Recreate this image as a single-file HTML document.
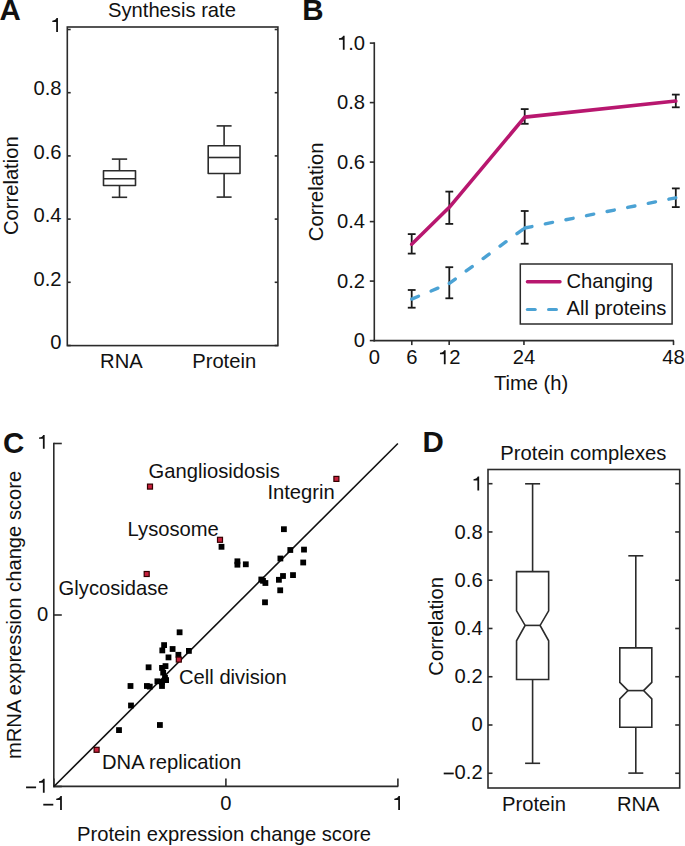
<!DOCTYPE html>
<html><head><meta charset="utf-8"><title>Figure</title>
<style>
html,body{margin:0;padding:0;background:#fff;}
body{width:685px;height:846px;overflow:hidden;}
svg{display:block;}
text{font-family:"Liberation Sans",sans-serif;fill:#111;}
</style></head>
<body>
<svg width="685" height="846" viewBox="0 0 685 846">
<rect width="685" height="846" fill="#fff"/>
<text x="-0.50" y="20.40" text-anchor="start" font-size="29.5" font-weight="bold" >A</text>
<text x="302.20" y="20.40" text-anchor="start" font-size="29.5" font-weight="bold" >B</text>
<text x="2.90" y="453.20" text-anchor="start" font-size="29.5" font-weight="bold" >C</text>
<text x="422.40" y="452.40" text-anchor="start" font-size="29.5" font-weight="bold" >D</text>
<rect x="67.3" y="27.0" width="210.60" height="318.60" fill="none" stroke="#2b2b2b" stroke-width="1.6"/>
<line x1="67.30" y1="29.50" x2="70.70" y2="29.50" stroke="#2b2b2b" stroke-width="1.6" />
<line x1="277.90" y1="29.50" x2="274.70" y2="29.50" stroke="#2b2b2b" stroke-width="1.6" />
<path d="M600 0H780V1409H635C605 1290 465 1170 207 1150V1010H600Z" fill="#111" transform="translate(50.266,32.000) scale(0.009863,-0.009863)"/>
<line x1="67.30" y1="92.70" x2="70.70" y2="92.70" stroke="#2b2b2b" stroke-width="1.6" />
<line x1="277.90" y1="92.70" x2="274.70" y2="92.70" stroke="#2b2b2b" stroke-width="1.6" />
<text x="61.50" y="95.45" text-anchor="end" font-size="20.2" font-weight="normal" >0.8</text>
<line x1="67.30" y1="155.90" x2="70.70" y2="155.90" stroke="#2b2b2b" stroke-width="1.6" />
<line x1="277.90" y1="155.90" x2="274.70" y2="155.90" stroke="#2b2b2b" stroke-width="1.6" />
<text x="61.50" y="158.90" text-anchor="end" font-size="20.2" font-weight="normal" >0.6</text>
<line x1="67.30" y1="219.10" x2="70.70" y2="219.10" stroke="#2b2b2b" stroke-width="1.6" />
<line x1="277.90" y1="219.10" x2="274.70" y2="219.10" stroke="#2b2b2b" stroke-width="1.6" />
<text x="61.50" y="222.35" text-anchor="end" font-size="20.2" font-weight="normal" >0.4</text>
<line x1="67.30" y1="282.30" x2="70.70" y2="282.30" stroke="#2b2b2b" stroke-width="1.6" />
<line x1="277.90" y1="282.30" x2="274.70" y2="282.30" stroke="#2b2b2b" stroke-width="1.6" />
<text x="61.50" y="285.80" text-anchor="end" font-size="20.2" font-weight="normal" >0.2</text>
<line x1="67.30" y1="345.50" x2="70.70" y2="345.50" stroke="#2b2b2b" stroke-width="1.6" />
<line x1="277.90" y1="345.50" x2="274.70" y2="345.50" stroke="#2b2b2b" stroke-width="1.6" />
<text x="61.50" y="349.25" text-anchor="end" font-size="20.2" font-weight="normal" >0</text>
<text x="108.00" y="17.00" text-anchor="start" font-size="20.2" font-weight="normal" >Synthesis rate</text>
<text x="121.40" y="367.50" text-anchor="middle" font-size="20.2" font-weight="normal" >RNA</text>
<text x="224.20" y="367.50" text-anchor="middle" font-size="20.2" font-weight="normal" >Protein</text>
<text x="0.00" y="0.00" text-anchor="middle" font-size="20.2" font-weight="normal" transform="translate(18.3,185.7) rotate(-90)">Correlation</text>
<rect x="103.50" y="170.80" width="32.00" height="14.70" fill="none" stroke="#2b2b2b" stroke-width="1.6" stroke-linejoin="round"/>
<line x1="103.50" y1="178.70" x2="135.50" y2="178.70" stroke="#2b2b2b" stroke-width="1.6" />
<line x1="119.50" y1="159.10" x2="119.50" y2="170.80" stroke="#2b2b2b" stroke-width="1.6" />
<line x1="119.50" y1="185.50" x2="119.50" y2="197.30" stroke="#2b2b2b" stroke-width="1.6" />
<line x1="111.85" y1="159.10" x2="127.15" y2="159.10" stroke="#2b2b2b" stroke-width="1.6" />
<line x1="111.85" y1="197.30" x2="127.15" y2="197.30" stroke="#2b2b2b" stroke-width="1.6" />
<rect x="208.20" y="145.70" width="31.80" height="27.80" fill="none" stroke="#2b2b2b" stroke-width="1.6" stroke-linejoin="round"/>
<line x1="208.20" y1="157.50" x2="240.00" y2="157.50" stroke="#2b2b2b" stroke-width="1.6" />
<line x1="224.10" y1="125.90" x2="224.10" y2="145.70" stroke="#2b2b2b" stroke-width="1.6" />
<line x1="224.10" y1="173.50" x2="224.10" y2="197.10" stroke="#2b2b2b" stroke-width="1.6" />
<line x1="216.60" y1="125.90" x2="231.60" y2="125.90" stroke="#2b2b2b" stroke-width="1.6" />
<line x1="216.60" y1="197.10" x2="231.60" y2="197.10" stroke="#2b2b2b" stroke-width="1.6" />
<line x1="374.30" y1="42.20" x2="374.30" y2="341.40" stroke="#2b2b2b" stroke-width="1.6" />
<line x1="373.50" y1="340.60" x2="674.00" y2="340.60" stroke="#2b2b2b" stroke-width="1.6" />
<line x1="369.80" y1="43.10" x2="374.30" y2="43.10" stroke="#2b2b2b" stroke-width="1.6" />
<path d="M600 0H780V1409H635C605 1290 465 1170 207 1150V1010H600Z" fill="#111" transform="translate(336.919,49.700) scale(0.009863,-0.009863)"/>
<text x="348.15" y="49.70" font-size="20.2">.</text>
<text x="353.77" y="49.70" font-size="20.2">0</text>
<line x1="369.80" y1="102.60" x2="374.30" y2="102.60" stroke="#2b2b2b" stroke-width="1.6" />
<text x="365.00" y="109.20" text-anchor="end" font-size="20.2" font-weight="normal" >0.8</text>
<line x1="369.80" y1="162.10" x2="374.30" y2="162.10" stroke="#2b2b2b" stroke-width="1.6" />
<text x="365.00" y="168.70" text-anchor="end" font-size="20.2" font-weight="normal" >0.6</text>
<line x1="369.80" y1="221.60" x2="374.30" y2="221.60" stroke="#2b2b2b" stroke-width="1.6" />
<text x="365.00" y="228.20" text-anchor="end" font-size="20.2" font-weight="normal" >0.4</text>
<line x1="369.80" y1="281.10" x2="374.30" y2="281.10" stroke="#2b2b2b" stroke-width="1.6" />
<text x="365.00" y="287.70" text-anchor="end" font-size="20.2" font-weight="normal" >0.2</text>
<line x1="369.80" y1="340.60" x2="374.30" y2="340.60" stroke="#2b2b2b" stroke-width="1.6" />
<text x="365.00" y="347.20" text-anchor="end" font-size="20.2" font-weight="normal" >0</text>
<text x="374.40" y="364.20" text-anchor="middle" font-size="20.2" font-weight="normal" >0</text>
<line x1="411.79" y1="340.60" x2="411.79" y2="345.10" stroke="#2b2b2b" stroke-width="1.6" />
<text x="411.79" y="364.20" text-anchor="middle" font-size="20.2" font-weight="normal" >6</text>
<line x1="449.17" y1="340.60" x2="449.17" y2="345.10" stroke="#2b2b2b" stroke-width="1.6" />
<path d="M600 0H780V1409H635C605 1290 465 1170 207 1150V1010H600Z" fill="#111" transform="translate(437.941,364.200) scale(0.009863,-0.009863)"/>
<text x="449.17" y="364.20" font-size="20.2">2</text>
<line x1="523.95" y1="340.60" x2="523.95" y2="345.10" stroke="#2b2b2b" stroke-width="1.6" />
<text x="523.95" y="364.20" text-anchor="middle" font-size="20.2" font-weight="normal" >24</text>
<line x1="673.50" y1="340.60" x2="673.50" y2="345.10" stroke="#2b2b2b" stroke-width="1.6" />
<text x="673.50" y="364.20" text-anchor="middle" font-size="20.2" font-weight="normal" >48</text>
<text x="531.10" y="390.40" text-anchor="middle" font-size="20.2" font-weight="normal" >Time (h)</text>
<text x="0.00" y="0.00" text-anchor="middle" font-size="20.2" font-weight="normal" transform="translate(322.5,191.8) rotate(-90)">Correlation</text>
<line x1="411.70" y1="234.10" x2="411.70" y2="253.60" stroke="#1a1a1a" stroke-width="1.8" />
<line x1="407.80" y1="234.10" x2="415.60" y2="234.10" stroke="#1a1a1a" stroke-width="1.8" />
<line x1="407.80" y1="253.60" x2="415.60" y2="253.60" stroke="#1a1a1a" stroke-width="1.8" />
<line x1="449.30" y1="191.60" x2="449.30" y2="223.90" stroke="#1a1a1a" stroke-width="1.8" />
<line x1="445.40" y1="191.60" x2="453.20" y2="191.60" stroke="#1a1a1a" stroke-width="1.8" />
<line x1="445.40" y1="223.90" x2="453.20" y2="223.90" stroke="#1a1a1a" stroke-width="1.8" />
<line x1="524.70" y1="109.10" x2="524.70" y2="123.80" stroke="#1a1a1a" stroke-width="1.8" />
<line x1="520.80" y1="109.10" x2="528.60" y2="109.10" stroke="#1a1a1a" stroke-width="1.8" />
<line x1="520.80" y1="123.80" x2="528.60" y2="123.80" stroke="#1a1a1a" stroke-width="1.8" />
<line x1="675.80" y1="94.60" x2="675.80" y2="107.30" stroke="#1a1a1a" stroke-width="1.8" />
<line x1="671.90" y1="94.60" x2="679.70" y2="94.60" stroke="#1a1a1a" stroke-width="1.8" />
<line x1="671.90" y1="107.30" x2="679.70" y2="107.30" stroke="#1a1a1a" stroke-width="1.8" />
<line x1="411.70" y1="290.00" x2="411.70" y2="307.70" stroke="#1a1a1a" stroke-width="1.8" />
<line x1="407.80" y1="290.00" x2="415.60" y2="290.00" stroke="#1a1a1a" stroke-width="1.8" />
<line x1="407.80" y1="307.70" x2="415.60" y2="307.70" stroke="#1a1a1a" stroke-width="1.8" />
<line x1="449.30" y1="267.20" x2="449.30" y2="298.30" stroke="#1a1a1a" stroke-width="1.8" />
<line x1="445.40" y1="267.20" x2="453.20" y2="267.20" stroke="#1a1a1a" stroke-width="1.8" />
<line x1="445.40" y1="298.30" x2="453.20" y2="298.30" stroke="#1a1a1a" stroke-width="1.8" />
<line x1="524.70" y1="211.00" x2="524.70" y2="243.70" stroke="#1a1a1a" stroke-width="1.8" />
<line x1="520.80" y1="211.00" x2="528.60" y2="211.00" stroke="#1a1a1a" stroke-width="1.8" />
<line x1="520.80" y1="243.70" x2="528.60" y2="243.70" stroke="#1a1a1a" stroke-width="1.8" />
<line x1="675.80" y1="188.40" x2="675.80" y2="207.10" stroke="#1a1a1a" stroke-width="1.8" />
<line x1="671.90" y1="188.40" x2="679.70" y2="188.40" stroke="#1a1a1a" stroke-width="1.8" />
<line x1="671.90" y1="207.10" x2="679.70" y2="207.10" stroke="#1a1a1a" stroke-width="1.8" />
<line x1="411.70" y1="299.10" x2="449.30" y2="283.40" stroke="#4ba2d4" stroke-width="3.4" stroke-dasharray="7.4 13.6" stroke-linecap="round"/>
<line x1="449.30" y1="283.40" x2="524.70" y2="228.00" stroke="#4ba2d4" stroke-width="3.4" stroke-dasharray="7.4 13.6" stroke-linecap="round"/>
<line x1="524.70" y1="228.00" x2="675.80" y2="197.80" stroke="#4ba2d4" stroke-width="3.4" stroke-dasharray="7.4 13.6" stroke-linecap="round"/>
<polyline points="411.70,244.20 449.30,207.30 524.70,117.10 675.80,101.00" fill="none" stroke="#b8176f" stroke-width="3.6" stroke-linejoin="round" stroke-linecap="round"/>
<rect x="520.3" y="264.0" width="151.8" height="60.0" fill="#fff" stroke="#2b2b2b" stroke-width="1.5"/>
<line x1="527.40" y1="281.70" x2="560.00" y2="281.70" stroke="#b8176f" stroke-width="3.4" stroke-linecap="round"/>
<line x1="527.40" y1="309.50" x2="535.20" y2="309.50" stroke="#4ba2d4" stroke-width="3.2" stroke-linecap="round"/>
<line x1="548.60" y1="309.50" x2="556.40" y2="309.50" stroke="#4ba2d4" stroke-width="3.2" stroke-linecap="round"/>
<text x="566.50" y="288.20" text-anchor="start" font-size="20.2" font-weight="normal" >Changing</text>
<text x="566.50" y="315.20" text-anchor="start" font-size="20.2" font-weight="normal" >All proteins</text>
<line x1="53.80" y1="442.80" x2="53.80" y2="787.20" stroke="#2b2b2b" stroke-width="1.6" />
<line x1="53.00" y1="786.40" x2="398.20" y2="786.40" stroke="#2b2b2b" stroke-width="1.6" />
<line x1="53.80" y1="786.50" x2="61.80" y2="786.50" stroke="#2b2b2b" stroke-width="1.6" />
<line x1="53.90" y1="786.40" x2="53.90" y2="778.40" stroke="#2b2b2b" stroke-width="1.6" />
<line x1="53.80" y1="615.00" x2="61.80" y2="615.00" stroke="#2b2b2b" stroke-width="1.6" />
<line x1="225.90" y1="786.40" x2="225.90" y2="778.40" stroke="#2b2b2b" stroke-width="1.6" />
<line x1="53.80" y1="443.50" x2="61.80" y2="443.50" stroke="#2b2b2b" stroke-width="1.6" />
<line x1="397.90" y1="786.40" x2="397.90" y2="778.40" stroke="#2b2b2b" stroke-width="1.6" />
<path d="M600 0H780V1409H635C605 1290 465 1170 207 1150V1010H600Z" fill="#111" transform="translate(36.966,448.800) scale(0.009863,-0.009863)"/>
<text x="48.20" y="621.00" text-anchor="end" font-size="20.2" font-weight="normal" >0</text>
<path d="M90 450V630H1106V450Z" fill="#111" transform="translate(25.169,792.700) scale(0.009863,-0.009863)"/>
<path d="M600 0H780V1409H635C605 1290 465 1170 207 1150V1010H600Z" fill="#111" transform="translate(36.966,792.700) scale(0.009863,-0.009863)"/>
<path d="M90 450V630H1106V450Z" fill="#111" transform="translate(42.385,810.000) scale(0.009863,-0.009863)"/>
<path d="M600 0H780V1409H635C605 1290 465 1170 207 1150V1010H600Z" fill="#111" transform="translate(54.181,810.000) scale(0.009863,-0.009863)"/>
<text x="225.90" y="810.00" text-anchor="middle" font-size="20.2" font-weight="normal" >0</text>
<path d="M600 0H780V1409H635C605 1290 465 1170 207 1150V1010H600Z" fill="#111" transform="translate(392.283,810.000) scale(0.009863,-0.009863)"/>
<text x="224.10" y="841.00" text-anchor="middle" font-size="20.2" font-weight="normal" >Protein expression change score</text>
<text x="0.00" y="0.00" text-anchor="middle" font-size="20.2" font-weight="normal" transform="translate(21.4,614.9) rotate(-90)">mRNA expression change score</text>
<line x1="53.90" y1="786.50" x2="397.90" y2="443.50" stroke="#111" stroke-width="1.6" />
<rect x="281.00" y="526.30" width="5.8" height="5.8" fill="#000"/>
<rect x="287.40" y="547.10" width="5.8" height="5.8" fill="#000"/>
<rect x="301.10" y="546.70" width="5.8" height="5.8" fill="#000"/>
<rect x="277.50" y="555.60" width="5.8" height="5.8" fill="#000"/>
<rect x="300.30" y="559.60" width="5.8" height="5.8" fill="#000"/>
<rect x="234.50" y="558.40" width="5.8" height="5.8" fill="#000"/>
<rect x="234.50" y="561.80" width="5.8" height="5.8" fill="#000"/>
<rect x="242.90" y="561.40" width="5.8" height="5.8" fill="#000"/>
<rect x="218.60" y="543.90" width="5.8" height="5.8" fill="#000"/>
<rect x="258.40" y="576.60" width="5.8" height="5.8" fill="#000"/>
<rect x="260.10" y="577.90" width="5.8" height="5.8" fill="#000"/>
<rect x="262.50" y="580.10" width="5.8" height="5.8" fill="#000"/>
<rect x="276.00" y="576.90" width="5.8" height="5.8" fill="#000"/>
<rect x="280.10" y="573.10" width="5.8" height="5.8" fill="#000"/>
<rect x="290.10" y="572.20" width="5.8" height="5.8" fill="#000"/>
<rect x="277.30" y="587.40" width="5.8" height="5.8" fill="#000"/>
<rect x="262.10" y="599.40" width="5.8" height="5.8" fill="#000"/>
<rect x="176.70" y="629.40" width="5.8" height="5.8" fill="#000"/>
<rect x="161.20" y="642.20" width="5.8" height="5.8" fill="#000"/>
<rect x="159.40" y="647.50" width="5.8" height="5.8" fill="#000"/>
<rect x="169.70" y="646.10" width="5.8" height="5.8" fill="#000"/>
<rect x="186.00" y="648.00" width="5.8" height="5.8" fill="#000"/>
<rect x="165.60" y="654.50" width="5.8" height="5.8" fill="#000"/>
<rect x="175.50" y="651.90" width="5.8" height="5.8" fill="#000"/>
<rect x="145.70" y="664.40" width="5.8" height="5.8" fill="#000"/>
<rect x="162.60" y="663.20" width="5.8" height="5.8" fill="#000"/>
<rect x="159.10" y="665.00" width="5.8" height="5.8" fill="#000"/>
<rect x="160.30" y="669.70" width="5.8" height="5.8" fill="#000"/>
<rect x="162.10" y="674.90" width="5.8" height="5.8" fill="#000"/>
<rect x="154.50" y="678.40" width="5.8" height="5.8" fill="#000"/>
<rect x="159.10" y="679.00" width="5.8" height="5.8" fill="#000"/>
<rect x="163.20" y="677.20" width="5.8" height="5.8" fill="#000"/>
<rect x="159.10" y="683.10" width="5.8" height="5.8" fill="#000"/>
<rect x="127.60" y="683.10" width="5.8" height="5.8" fill="#000"/>
<rect x="144.00" y="683.10" width="5.8" height="5.8" fill="#000"/>
<rect x="146.90" y="683.70" width="5.8" height="5.8" fill="#000"/>
<rect x="128.10" y="702.60" width="5.8" height="5.8" fill="#000"/>
<rect x="116.10" y="727.20" width="5.8" height="5.8" fill="#000"/>
<rect x="157.00" y="722.10" width="5.8" height="5.8" fill="#000"/>
<rect x="147.50" y="484.10" width="5" height="5" fill="#c8203c" stroke="#300" stroke-width="1.2"/>
<rect x="333.90" y="476.40" width="5" height="5" fill="#c8203c" stroke="#300" stroke-width="1.2"/>
<rect x="217.50" y="537.30" width="5" height="5" fill="#c8203c" stroke="#300" stroke-width="1.2"/>
<rect x="144.20" y="571.50" width="5" height="5" fill="#c8203c" stroke="#300" stroke-width="1.2"/>
<rect x="176.30" y="657.10" width="5" height="5" fill="#c8203c" stroke="#300" stroke-width="1.2"/>
<rect x="94.10" y="747.30" width="5" height="5" fill="#c8203c" stroke="#300" stroke-width="1.2"/>
<text x="148.60" y="477.60" text-anchor="start" font-size="20.2" font-weight="normal" >Gangliosidosis</text>
<text x="267.40" y="498.70" text-anchor="start" font-size="20.2" font-weight="normal" >Integrin</text>
<text x="127.60" y="535.90" text-anchor="start" font-size="20.2" font-weight="normal" >Lysosome</text>
<text x="58.60" y="594.50" text-anchor="start" font-size="20.2" font-weight="normal" >Glycosidase</text>
<text x="179.00" y="683.80" text-anchor="start" font-size="20.2" font-weight="normal" >Cell division</text>
<text x="102.00" y="769.00" text-anchor="start" font-size="20.2" font-weight="normal" >DNA replication</text>
<rect x="488.0" y="469.5" width="191.70" height="318.50" fill="none" stroke="#2b2b2b" stroke-width="1.6"/>
<line x1="488.00" y1="483.70" x2="492.50" y2="483.70" stroke="#2b2b2b" stroke-width="1.6" />
<line x1="679.70" y1="483.70" x2="675.20" y2="483.70" stroke="#2b2b2b" stroke-width="1.6" />
<path d="M600 0H780V1409H635C605 1290 465 1170 207 1150V1010H600Z" fill="#111" transform="translate(471.466,490.500) scale(0.009863,-0.009863)"/>
<line x1="488.00" y1="531.96" x2="492.50" y2="531.96" stroke="#2b2b2b" stroke-width="1.6" />
<line x1="679.70" y1="531.96" x2="675.20" y2="531.96" stroke="#2b2b2b" stroke-width="1.6" />
<text x="482.70" y="538.55" text-anchor="end" font-size="20.2" font-weight="normal" >0.8</text>
<line x1="488.00" y1="580.22" x2="492.50" y2="580.22" stroke="#2b2b2b" stroke-width="1.6" />
<line x1="679.70" y1="580.22" x2="675.20" y2="580.22" stroke="#2b2b2b" stroke-width="1.6" />
<text x="482.70" y="586.60" text-anchor="end" font-size="20.2" font-weight="normal" >0.6</text>
<line x1="488.00" y1="628.48" x2="492.50" y2="628.48" stroke="#2b2b2b" stroke-width="1.6" />
<line x1="679.70" y1="628.48" x2="675.20" y2="628.48" stroke="#2b2b2b" stroke-width="1.6" />
<text x="482.70" y="634.65" text-anchor="end" font-size="20.2" font-weight="normal" >0.4</text>
<line x1="488.00" y1="676.74" x2="492.50" y2="676.74" stroke="#2b2b2b" stroke-width="1.6" />
<line x1="679.70" y1="676.74" x2="675.20" y2="676.74" stroke="#2b2b2b" stroke-width="1.6" />
<text x="482.70" y="682.70" text-anchor="end" font-size="20.2" font-weight="normal" >0.2</text>
<line x1="488.00" y1="725.00" x2="492.50" y2="725.00" stroke="#2b2b2b" stroke-width="1.6" />
<line x1="679.70" y1="725.00" x2="675.20" y2="725.00" stroke="#2b2b2b" stroke-width="1.6" />
<text x="482.70" y="730.75" text-anchor="end" font-size="20.2" font-weight="normal" >0</text>
<line x1="488.00" y1="773.26" x2="492.50" y2="773.26" stroke="#2b2b2b" stroke-width="1.6" />
<line x1="679.70" y1="773.26" x2="675.20" y2="773.26" stroke="#2b2b2b" stroke-width="1.6" />
<path d="M90 450V630H1106V450Z" fill="#111" transform="translate(442.823,778.800) scale(0.009863,-0.009863)"/>
<text x="454.62" y="778.80" font-size="20.2">0</text>
<text x="465.85" y="778.80" font-size="20.2">.</text>
<text x="471.47" y="778.80" font-size="20.2">2</text>
<text x="583.40" y="460.20" text-anchor="middle" font-size="20.2" font-weight="normal" >Protein complexes</text>
<text x="534.00" y="811.30" text-anchor="middle" font-size="20.2" font-weight="normal" >Protein</text>
<text x="638.20" y="811.30" text-anchor="middle" font-size="20.2" font-weight="normal" >RNA</text>
<text x="0.00" y="0.00" text-anchor="middle" font-size="20.2" font-weight="normal" transform="translate(443.0,626.3) rotate(-90)">Correlation</text>
<path d="M516.55,571.60 L548.65,571.60 L548.65,610.80 L540.10,625.40 L548.65,640.80 L548.65,679.50 L516.55,679.50 L516.55,640.80 L525.10,625.40 L516.55,610.80 Z" fill="none" stroke="#2b2b2b" stroke-width="1.6" stroke-linejoin="miter"/>
<line x1="525.10" y1="625.40" x2="540.10" y2="625.40" stroke="#2b2b2b" stroke-width="1.6" />
<line x1="532.60" y1="483.80" x2="532.60" y2="571.60" stroke="#2b2b2b" stroke-width="1.6" />
<line x1="532.60" y1="679.50" x2="532.60" y2="763.30" stroke="#2b2b2b" stroke-width="1.6" />
<line x1="525.10" y1="483.80" x2="540.10" y2="483.80" stroke="#2b2b2b" stroke-width="1.6" />
<line x1="525.10" y1="763.30" x2="540.10" y2="763.30" stroke="#2b2b2b" stroke-width="1.6" />
<path d="M619.80,647.90 L651.80,647.90 L651.80,682.40 L643.60,690.60 L651.80,698.90 L651.80,727.30 L619.80,727.30 L619.80,698.90 L628.00,690.60 L619.80,682.40 Z" fill="none" stroke="#2b2b2b" stroke-width="1.6" stroke-linejoin="miter"/>
<line x1="628.00" y1="690.60" x2="643.60" y2="690.60" stroke="#2b2b2b" stroke-width="1.6" />
<line x1="635.80" y1="555.80" x2="635.80" y2="647.90" stroke="#2b2b2b" stroke-width="1.6" />
<line x1="635.80" y1="727.30" x2="635.80" y2="773.10" stroke="#2b2b2b" stroke-width="1.6" />
<line x1="628.30" y1="555.80" x2="643.30" y2="555.80" stroke="#2b2b2b" stroke-width="1.6" />
<line x1="628.30" y1="773.10" x2="643.30" y2="773.10" stroke="#2b2b2b" stroke-width="1.6" />
</svg>
</body></html>
